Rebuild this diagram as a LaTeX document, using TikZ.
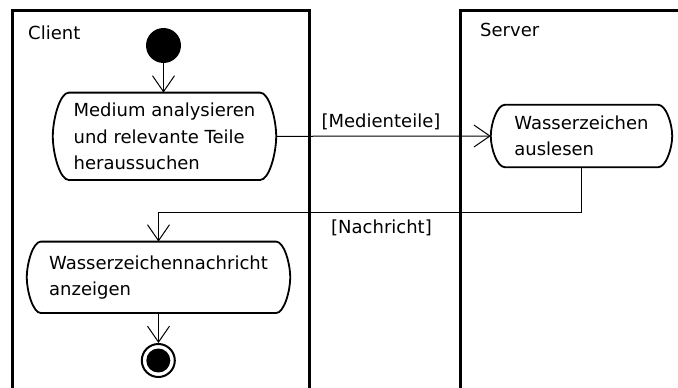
\documentclass[tikz,border=0pt]{standalone}
\usepackage{fontspec}
\setmainfont{DejaVu Sans}
\usetikzlibrary{arrows.meta,calc}
\newcommand\actoutline[2]{%
  \draw[actline] ($(#1.north west)+(#2,0)$) -- ($(#1.north east)+(-#2,0)$)
    .. controls ($(#1.north east)+(-#2*0.45,0)$) and ($(#1.east)!0.4!(#1.north east)$) .. (#1.east)
    .. controls ($(#1.east)!0.4!(#1.south east)$) and ($(#1.south east)+(-#2*0.45,0)$) .. ($(#1.south east)+(-#2,0)$)
    -- ($(#1.south west)+(#2,0)$)
    .. controls ($(#1.south west)+(#2*0.45,0)$) and ($(#1.west)!0.4!(#1.south west)$) .. (#1.west)
    .. controls ($(#1.west)!0.4!(#1.north west)$) and ($(#1.north west)+(#2*0.45,0)$) .. cycle;}
\begin{document}
\begin{tikzpicture}[x=1pt,y=-1pt,
  lane/.style={line width=3pt},
  txt/.style={font=\fontsize{18}{26.5}\selectfont,inner sep=0pt},
  act/.style={rectangle,align=left,inner sep=0pt,font=\fontsize{18}{26.5}\selectfont},
  actline/.style={line width=1.8pt,line join=round},
  conn/.style={line width=1pt,-{Straight Barb[length=16pt,width=22pt,line width=1pt]}}]
\useasboundingbox[fill=white] (0,0) rectangle (678,388);
% swimlanes
\draw[lane] (12.3,392) -- (12.3,10) -- (309,10) -- (309,392);
\draw[lane] (460.7,392) -- (460.7,10) -- (682,10);
\node[txt,anchor=west] (client) at (28,33) {Client};
\node[txt,anchor=west] (server) at (480,30) {Server};
% nodes
\node[circle,fill=black,minimum size=35pt,inner sep=0pt] (init) at (163.5,45.5) {};
\node[act,minimum width=223pt,minimum height=87pt] (a1) at (164.5,136.3)
  {Medium analysieren\\und relevante Teile\\heraussuchen};
\actoutline{a1}{16}
\node[act,minimum width=181pt,minimum height=62pt] (a2) at (581.5,136)
  {Wasserzeichen\\auslesen};
\actoutline{a2}{14}
\node[act,minimum width=263pt,minimum height=71pt] (a3) at (158.5,277.3)
  {Wasserzeichennachricht\\anzeigen};
\actoutline{a3}{14}
\node[circle,draw,line width=2pt,minimum size=33pt,inner sep=0pt] (fin) at (158.3,360.5) {};
\node[circle,fill=black,minimum size=24pt,inner sep=0pt] (finin) at (fin) {};
% connectors
\draw[conn] (init) -- (init |- a1.north);
\draw[conn] (a1.east) -- (a2.west);
\node[txt] (l1) at (381,122) {[Medienteile]};
\coordinate (turn) at (0,212.7);
\draw[conn] (a2.south) |- (turn -| a3.north) -- (a3.north);
\node[txt] (l2) at (381.5,228) {[Nachricht]};
\draw[conn] (a3.south) -- (a3.south |- fin.north);
\end{tikzpicture}
\end{document}
